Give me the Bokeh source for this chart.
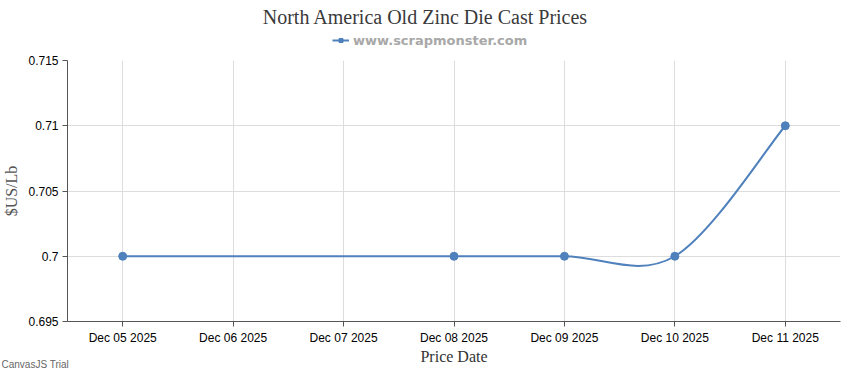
import datetime as dt
from bokeh.plotting import figure
from bokeh.layouts import column
from bokeh.models import (DatetimeTickFormatter, FixedTicker, Range1d, Legend,
                          LegendItem, Label, NumeralTickFormatter, ColumnDataSource)
from bokeh.embed import file_html
from bokeh.resources import INLINE

# ---- data ----
dates = ["2025-12-05", "2025-12-08", "2025-12-09", "2025-12-10", "2025-12-11"]
prices = [0.70, 0.70, 0.70, 0.70, 0.71]
tick_dates = ["2025-12-05", "2025-12-06", "2025-12-07", "2025-12-08",
              "2025-12-09", "2025-12-10", "2025-12-11"]
y_ticks = [0.695, 0.70, 0.705, 0.71, 0.715]
y_min, y_max = 0.695, 0.715

title_text = "North America Old Zinc Die Cast Prices"
series_name = "www.scrapmonster.com"
x_title = "Price Date"
y_title = "$US/Lb"
credit_text = "CanvasJS Trial"

COLOR = "#4F81BC"
W = 850
LEFT, RIGHT = 67, 10

# ---------- top strip: title + legend ----------
TOP_H = 52
top = figure(width=W, height=TOP_H, output_backend="svg", toolbar_location=None,
             x_range=Range1d(LEFT, W - RIGHT), y_range=Range1d(TOP_H, 0),
             x_axis_location=None, y_axis_location=None,
             min_border_left=LEFT, min_border_right=RIGHT,
             min_border_top=0, min_border_bottom=0)
top.grid.visible = False
top.outline_line_color = None
top.border_fill_color = "white"

top.add_layout(Label(x=W / 2, y=16, text=title_text, text_align="center",
                     text_baseline="middle", text_font="Liberation Serif",
                     text_font_size="20px", text_color="#3A3A3A"))

# legend glyph renderers (parked outside the visible strip)
leg_line = top.line(x=[-100, -90], y=[-100, -100], line_color=COLOR, line_width=2)
leg_sq = top.scatter(x=[-100], y=[-100], marker="square", size=6,
                     fill_color=COLOR, line_color=COLOR)
legend = Legend(items=[LegendItem(label=series_name, renderers=[leg_line, leg_sq])],
                orientation="horizontal", location=(332 - LEFT, 4),
                label_text_font="DejaVu Sans", label_text_font_style="bold",
                label_text_font_size="13px", label_text_color="#A8A8A8",
                glyph_width=17, glyph_height=10, label_standoff=4,
                padding=0, margin=0, border_line_alpha=0,
                background_fill_alpha=0, label_height=16)
top.add_layout(legend)

# ---------- main chart ----------
xs = [dt.datetime.strptime(d, "%Y-%m-%d") for d in dates]
tx = [dt.datetime.strptime(d, "%Y-%m-%d") for d in tick_dates]
epoch = dt.datetime(1970, 1, 1)
tick_ms = [(t - epoch).total_seconds() * 1000 for t in tx]
half = dt.timedelta(hours=12)

p = figure(width=W, height=370 - TOP_H, output_backend="svg", toolbar_location=None,
           x_axis_type="datetime",
           x_range=Range1d(tx[0] - half, tx[-1] + half),
           y_range=Range1d(y_min, y_max),
           min_border_left=LEFT, min_border_right=RIGHT, min_border_bottom=49,
           min_border_top=8)
p.outline_line_color = None
p.background_fill_color = "white"
p.border_fill_color = "white"

# spline (CanvasJS-style bezier, tension 2) built from the data points
def ms(d):
    return (d - epoch).total_seconds() * 1000

px = [ms(d) for d in xs]
py = prices
n = len(px)
tension = 2.0
seg = dict(x0=[], y0=[], x1=[], y1=[], cx0=[], cy0=[], cx1=[], cy1=[])
for i in range(1, n):
    a = i - 1
    i1 = 0 if a == 0 else a - 1
    i2 = a if a == n - 1 else a + 1
    c1x = px[a] + (px[i2] - px[i1]) / tension / 3
    c1y = py[a] + (py[i2] - py[i1]) / tension / 3
    b = i
    j1 = 0 if b == 0 else b - 1
    j2 = b if b == n - 1 else b + 1
    c2x = px[b] - (px[j2] - px[j1]) / tension / 3
    c2y = py[b] - (py[j2] - py[j1]) / tension / 3
    seg["x0"].append(px[a]); seg["y0"].append(py[a])
    seg["x1"].append(px[b]); seg["y1"].append(py[b])
    seg["cx0"].append(c1x); seg["cy0"].append(c1y)
    seg["cx1"].append(c2x); seg["cy1"].append(c2y)

p.bezier(x0="x0", y0="y0", x1="x1", y1="y1", cx0="cx0", cy0="cy0",
         cx1="cx1", cy1="cy1", source=ColumnDataSource(seg),
         line_color=COLOR, line_width=2)
p.scatter(x=xs, y=prices, size=8, marker="circle", fill_color=COLOR,
          line_color=COLOR)

# axes
p.xaxis.ticker = FixedTicker(ticks=tick_ms)
fmt = "%b %d %Y"
p.xaxis.formatter = DatetimeTickFormatter(days=fmt, months=fmt, hours=fmt,
                                          years=fmt, minutes=fmt, hourmin=fmt)
p.yaxis.ticker = FixedTicker(ticks=y_ticks)
p.yaxis.formatter = NumeralTickFormatter(format="0.[000]")

for ax in (p.xaxis[0], p.yaxis[0]):
    ax.axis_line_color = "#555555"
    ax.major_tick_line_color = "#555555"
    ax.major_tick_out = 5
    ax.major_tick_in = 0
    ax.minor_tick_line_color = None
    ax.major_label_text_font = "Liberation Sans"
    ax.major_label_text_font_size = "12px"
    ax.major_label_text_color = "#000000"
    ax.axis_label_text_font = "Liberation Serif"
    ax.axis_label_text_font_size = "16px"
    ax.axis_label_text_font_style = "normal"
    ax.major_label_standoff = 4

p.xaxis.axis_label = x_title
p.yaxis.axis_label = y_title
p.xaxis.axis_label_text_color = "#333333"
p.yaxis.axis_label_text_color = "#555555"
p.xaxis.axis_label_standoff = 0
p.yaxis.axis_label_standoff = 5

p.xgrid.ticker = FixedTicker(ticks=tick_ms)
p.ygrid.ticker = FixedTicker(ticks=y_ticks)
p.xgrid.grid_line_color = "#DDDDDD"
p.ygrid.grid_line_color = "#DDDDDD"

# ---------- credit strip, overlapping the bottom-left corner ----------
# (the column aligns its frame at LEFT px, so the strip is shifted left to
#  bring its frame to the page's left edge)
CR_H = 14
SHIFT = LEFT - 1
credit = figure(width=W, height=CR_H, output_backend="svg", toolbar_location=None,
                x_range=Range1d(0, W - LEFT - RIGHT), y_range=Range1d(CR_H, 0),
                x_axis_location=None, y_axis_location=None,
                min_border_left=LEFT, min_border_right=RIGHT,
                min_border_top=0, min_border_bottom=0,
                margin=(-CR_H, 0, 0, -SHIFT))
credit.grid.visible = False
credit.outline_line_color = None
credit.background_fill_alpha = 0
credit.border_fill_alpha = 0
credit.add_layout(Label(x=0, y=8, text=credit_text, text_align="left",
                        text_baseline="middle", text_font="Liberation Sans",
                        text_font_size="10px", text_color="#666666"))

layout = column(top, p, credit, spacing=0)
open("out.html", "w").write(file_html(layout, INLINE))
